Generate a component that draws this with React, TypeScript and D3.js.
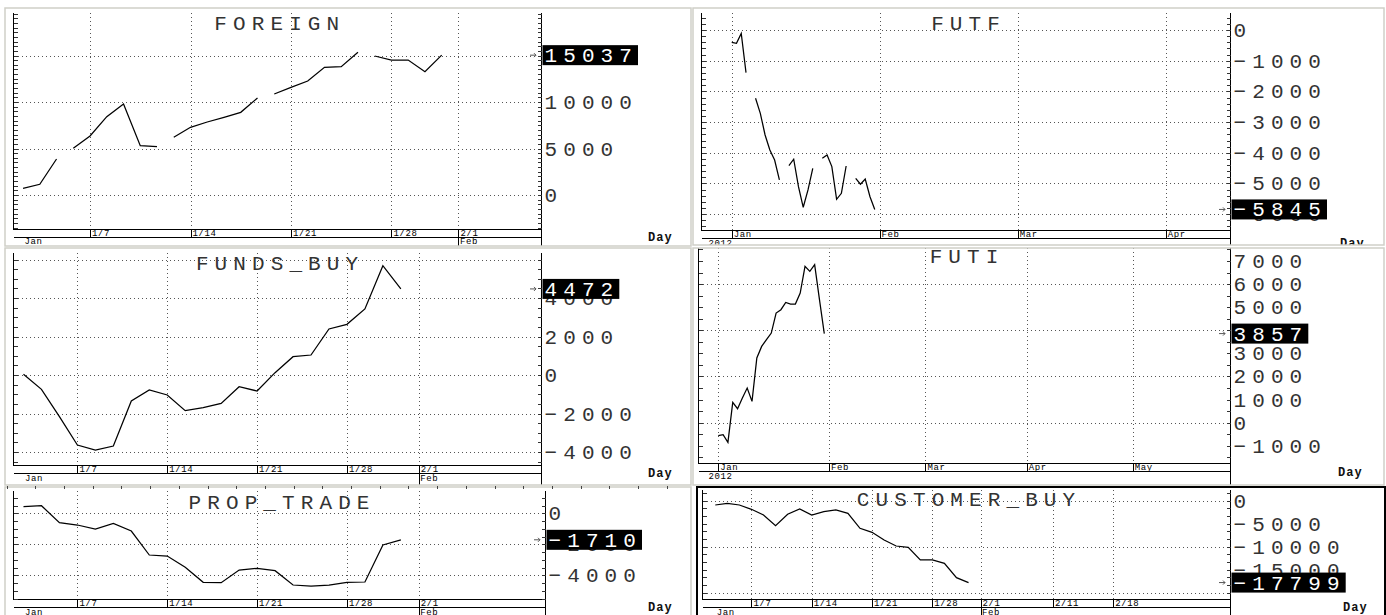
import * as d3 from "d3";

// ---------- data ----------

// FOREIGN: one point per trading day, the line breaks at each new week
const foreignValues = [720, 1150, 3871, 5018, 6344, 8423, 9785, 5305, 5197, 6201, 7276, 7849, 8351, 8889, 10430, 10860, 11577, 12258, 13728, 13800, 15340, 14946, 14516, 14516, 13262, 15037];
const foreignWeekStarts = [0, 3, 9, 15, 21];
const foreignTickIdx = [4, 10, 16, 22, 26];
const foreignMonthIdx = [0, 26];

const weekLabels = ["1/7", "1/14", "1/21", "1/28", "2/1"];
const monthLabels = ["Jan", "Feb", "Mar", "Apr", "May"];
const yearLabel = "2012";

// FUTF: calendar days from 2012-01-01, null = no data that day
const futfValues: (number | null)[] = [-400, -435, -110, -1390, null, -2225, -2715, -3420, -3910, -4235, -4885, null, -4420, -4210, -5105, -5775, -5210, -4505, null, -4180, -4070, -4450, -5515, -5320, -4430, null, -4830, -5025, -4855, -5430, -5845];

// FUNDS_BUY
const fundsValues = [36, -743, -2166, -3636, -3896, -3688, -1351, -779, -1039, -1853, -1697, -1472, -606, -831, 121, 952, 1039, 2390, 2632, 3429, 5678, 4472];
const dayTickIdx = [3, 8, 13, 18, 22];
const dayMonthIdx = [0, 22];

// FUTI
const futiValues = [-563, -519, -851, 880, 606, 1068, 1501, 924, 2800, 3303, 3593, 3881, 4747, 4892, 5208, 5137, 5137, 5613, 6767, 6550, 6840, 5325, 3857];
const futiMonthIdx = [0, 23, 43, 64, 86];

// PROP_TRADE
const propValues = [426, 490, -606, -755, -1013, -645, -1142, -2690, -2755, -3484, -4452, -4477, -3658, -3548, -3703, -4626, -4690, -4626, -4452, -4432, -2045, -1710];

// CUSTOMER_BUY
const customerValues = [-935, -565, -935, -1870, -3109, -5435, -2957, -1804, -3109, -2391, -2022, -2739, -6000, -6870, -8543, -9848, -10130, -12891, -12891, -13609, -16739, -17799];
const customerTickIdx = [3, 8, 13, 18, 22, 28, 33];
const customerTickLabels = ["1/7", "1/14", "1/21", "1/28", "2/1", "2/11", "2/18"];

// value axes
const foreignGrid = [0, 5000, 10000, 15000];
const foreignLabels = [0, 5000, 10000, 15000];
const futfGrid = [0, -1000, -2000, -3000, -4000, -5000, -6000];
const futfLabels = [0, -1000, -2000, -3000, -4000, -5000, -6000];
const fundsGrid = [-4000, -2000, 0, 2000, 4000, 6000];
const fundsLabels = [-4000, -2000, 0, 2000, 4000];
const futiGrid = [0, 2000, 4000, 6000];
const futiLabels = [-1000, 0, 1000, 2000, 3000, 4000, 5000, 6000, 7000];
const propGrid = [0, -2000, -4000];
const propLabels = [0, -2000, -4000];
const customerGrid = [0, -10000, -20000];
const customerLabels = [0, -5000, -10000, -15000];

// ---------- drawing ----------

const MONO = "'Liberation Mono', 'Courier New', monospace";
const ADV = 18.7;
const BIG = { fontFamily: MONO, fontSize: 21, letterSpacing: "6.1px" } as const;
const SMALL = { fontFamily: MONO, fontSize: 9, letterSpacing: "0.6px" } as const;
const DAY = { fontFamily: MONO, fontSize: 12, fontWeight: 700, letterSpacing: "1px" } as const;

const fmt = (v: number) => (v < 0 ? "\u2212" + Math.abs(v) : String(v));
const px = (v: number) => Math.round(v) + 0.5;

interface Tick { x: number; label: string; line?: boolean }

interface PanelProps {
  id: string;
  title: string;
  frame: { x0: number; y0: number; x1: number; y1: number };
  dark?: boolean;
  left: number;
  right: number;
  top: number;
  axisY: number;
  titleY: number;
  dayX: number;
  dayY: number;
  ys: d3.ScaleLinear<number, number>;
  paths: string[];
  gridY: number[];
  labelsY: number[];
  minorStep: number;
  upper: Tick[];
  lower: Tick[];
  last: number;
}

function Panel(p: PanelProps) {
  const { x0, y0, x1, y1 } = p.frame;
  const bandY = p.axisY + 8;
  const [d0, d1] = p.ys.domain();
  const minor: number[] = [];
  for (let k = Math.ceil(d0 / p.minorStep); k * p.minorStep <= d1; k++) minor.push(k * p.minorStep);
  const L = px(p.left);
  const R = px(p.right);
  const A = px(p.axisY);
  const B = px(bandY);
  const lastY = p.ys(p.last);
  const lastTxt = fmt(p.last);
  const boxW = lastTxt.length * ADV + 2;
  const titleW = p.title.length * ADV - 6.1;
  const clip = "clip-" + p.id;

  return (
    <g>
      <clipPath id={clip}>
        <rect x={x0} y={y0} width={x1 - x0} height={y1 - y0} />
      </clipPath>
      <g clipPath={`url(#${clip})`}>
        <rect x={x0} y={y0} width={x1 - x0} height={y1 - y0} fill="#fff" />

        {/* dotted grid */}
        <g stroke="#555" strokeDasharray="1 3" shapeRendering="crispEdges">
          {p.gridY.map((v) => (
            <line key={"gy" + v} x1={L} x2={R} y1={px(p.ys(v))} y2={px(p.ys(v))} />
          ))}
          {p.upper.map((t) => (
            <line key={"gx" + t.label} x1={px(t.x)} x2={px(t.x)} y1={p.top} y2={A} />
          ))}
        </g>

        <text x={(p.left + p.right) / 2 - titleW / 2} y={p.titleY} style={BIG} fill="#333">
          {p.title}
        </text>

        {/* axes */}
        <g stroke="#000" shapeRendering="crispEdges">
          <line x1={L} x2={L} y1={p.top} y2={A} />
          <line x1={R} x2={R} y1={p.top} y2={y1} />
          <line x1={L} x2={R} y1={A} y2={A} />
          <line x1={L} x2={R} y1={B} y2={B} />
          {minor.map((v) => (
            <line key={"ml" + v} x1={L} x2={L + 4} y1={px(p.ys(v))} y2={px(p.ys(v))} stroke="#333" />
          ))}
          {minor.map((v) => (
            <line key={"mr" + v} x1={R - 4} x2={R} y1={px(p.ys(v))} y2={px(p.ys(v))} stroke="#333" />
          ))}
          {p.upper.map((t) => (
            <line key={"ut" + t.label} x1={px(t.x)} x2={px(t.x)} y1={A} y2={B} />
          ))}
          {p.lower.filter((t) => t.line).map((t) => (
            <line key={"lt" + t.label} x1={px(t.x)} x2={px(t.x)} y1={B} y2={y1} />
          ))}
        </g>

        {p.upper.map((t) => (
          <text key={"ul" + t.label} x={t.x + 2} y={p.axisY + 7} style={SMALL} fill="#000">
            {t.label}
          </text>
        ))}
        {p.lower.map((t) => (
          <text key={"ll" + t.label} x={t.x + 1.5} y={bandY + 7.5} style={SMALL} fill="#000">
            {t.label}
          </text>
        ))}

        {/* series */}
        {p.paths.map((d, i) => (
          <path key={"s" + i} d={d} fill="none" stroke="#000" strokeWidth={1.25} />
        ))}

        {/* value labels */}
        {p.labelsY.map((v) => (
          <text key={"yl" + v} x={p.right + 3.5} y={p.ys(v) + 7} style={BIG} fill="#333">
            {fmt(v)}
          </text>
        ))}

        {/* last value marker */}
        <path
          d={`M${p.right - 11},${lastY} h6 M${p.right - 7},${lastY - 2} l2,2 l-2,2`}
          fill="none"
          stroke="#555"
          strokeWidth={1}
        />
        <rect x={p.right + 1.5} y={lastY - 10} width={boxW} height={20} fill="#000" />
        <text x={p.right + 3.5} y={lastY + 7} style={BIG} fill="#fff">
          {lastTxt}
        </text>

        <text x={p.dayX} y={p.dayY} style={DAY} fill="#111">
          Day
        </text>
      </g>
      <rect
        x={x0}
        y={y0}
        width={x1 - x0}
        height={y1 - y0}
        fill="none"
        stroke={p.dark ? "#000" : "#cfcfc8"}
        strokeWidth={p.dark ? 2 : 1.5}
      />
    </g>
  );
}

function indexLine(xs: (v: number) => number, ys: d3.ScaleLinear<number, number>, values: number[], starts: number[]) {
  const line = d3
    .line<[number, number]>()
    .x((d) => xs(d[0]))
    .y((d) => ys(d[1]));
  const pts: [number, number][] = values.map((v, i) => [i, v]);
  return starts.map((s, k) => line(pts.slice(s, k + 1 < starts.length ? starts[k + 1] : pts.length)) || "");
}

export default function App() {
  // FOREIGN
  const xF = d3.scaleLinear().domain([-0.63, 30.93]).range([12.5, 541]);
  const yF = d3.scaleLinear().domain([-3602, 19570]).range([228.5, 13]);

  // FUTF (calendar)
  const xT = d3.scaleTime().domain([new Date(2011, 11, 25, 13, 26), new Date(2012, 3, 14, 12)]).range([701, 1230]);
  const yT = d3.scaleLinear().domain([-6515, 554]).range([230, 13]);
  const futfLine = d3
    .line<[Date, number | null]>()
    .defined((d) => d[1] !== null)
    .x((d) => xT(d[0]))
    .y((d) => yT(d[1] as number));
  const futfPts: [Date, number | null][] = futfValues.map((v, i) => [new Date(2012, 0, 1 + i), v]);

  // FUNDS_BUY
  const xB = d3.scaleLinear().domain([-0.584, 28.8]).range([13, 541]);
  const yB = d3.scaleLinear().domain([-4691, 6338]).range([465.3, 253]);

  // FUTI
  const xI = d3.scaleLinear().domain([-4.21, 106.2]).range([698, 1230]);
  const yI = d3.scaleLinear().domain([-1745, 7563]).range([463, 248]);

  // PROP_TRADE
  const xP = d3.scaleLinear().domain([-0.584, 29.02]).range([13, 545]);
  const yP = d3.scaleLinear().domain([-5548, 1439]).range([599.3, 491]);

  // CUSTOMER_BUY
  const xC = d3.scaleLinear().domain([-1.1, 42.68]).range([702, 1230]);
  const yC = d3.scaleLinear().domain([-21435, 2326]).range([599.3, 490]);

  const weekTicks = (xs: (v: number) => number, idx: number[], labels: string[]): Tick[] =>
    idx.map((i, k) => ({ x: xs(i), label: labels[k] }));
  const monthLower = (xs: (v: number) => number, idx: number[]): Tick[] =>
    idx.map((i, k) => ({ x: xs(i), label: monthLabels[k], line: k > 0 }));

  return (
    <div style={{ position: "absolute", left: 0, top: 0, width: 1386, height: 615, overflow: "hidden" }}>
      <svg width={1386} height={615} style={{ display: "block" }}>
        <rect width={1386} height={615} fill="#fff" />

        <Panel
          id="foreign"
          title="FOREIGN"
          frame={{ x0: 5, y0: 8, x1: 691, y1: 246 }}
          left={12.5}
          right={541}
          top={13}
          axisY={228.5}
          titleY={29.5}
          dayX={648}
          dayY={240.5}
          ys={yF}
          paths={indexLine(xF, yF, foreignValues, foreignWeekStarts)}
          gridY={foreignGrid}
          labelsY={foreignLabels}
          minorStep={500}
          upper={weekTicks(xF, foreignTickIdx, weekLabels)}
          lower={monthLower(xF, foreignMonthIdx)}
          last={foreignValues[foreignValues.length - 1]}
        />

        <Panel
          id="futf"
          title="FUTF"
          frame={{ x0: 693, y0: 8, x1: 1384, y1: 245 }}
          left={701}
          right={1230}
          top={13}
          axisY={230}
          titleY={30}
          dayX={1340}
          dayY={247}
          ys={yT}
          paths={[futfLine(futfPts) || ""]}
          gridY={futfGrid}
          labelsY={futfLabels}
          minorStep={200}
          upper={[0, 1, 2, 3].map((m) => ({ x: xT(new Date(2012, m, 1)), label: monthLabels[m] }))}
          lower={[{ x: 707, label: yearLabel }]}
          last={futfValues[futfValues.length - 1] as number}
        />

        <Panel
          id="funds"
          title="FUNDS_BUY"
          frame={{ x0: 5, y0: 248, x1: 691, y1: 485 }}
          left={13}
          right={541}
          top={253}
          axisY={465.3}
          titleY={269.5}
          dayX={648}
          dayY={477}
          ys={yB}
          paths={indexLine(xB, yB, fundsValues, [0])}
          gridY={fundsGrid}
          labelsY={fundsLabels}
          minorStep={500}
          upper={weekTicks(xB, dayTickIdx, weekLabels)}
          lower={monthLower(xB, dayMonthIdx)}
          last={fundsValues[fundsValues.length - 1]}
        />

        <Panel
          id="futi"
          title="FUTI"
          frame={{ x0: 693, y0: 248, x1: 1384, y1: 485 }}
          left={698}
          right={1230}
          top={248}
          axisY={463}
          titleY={263}
          dayX={1338}
          dayY={476}
          ys={yI}
          paths={indexLine(xI, yI, futiValues, [0])}
          gridY={futiGrid}
          labelsY={futiLabels}
          minorStep={500}
          upper={futiMonthIdx.map((i, k) => ({ x: xI(i), label: monthLabels[k] }))}
          lower={[{ x: 707, label: yearLabel }]}
          last={futiValues[futiValues.length - 1]}
        />

        <Panel
          id="prop"
          title="PROP_TRADE"
          frame={{ x0: 5, y0: 487, x1: 691, y1: 616 }}
          left={13}
          right={545}
          top={491}
          axisY={599.3}
          titleY={508.5}
          dayX={648}
          dayY={611}
          ys={yP}
          paths={indexLine(xP, yP, propValues, [0])}
          gridY={propGrid}
          labelsY={propLabels}
          minorStep={500}
          upper={weekTicks(xP, dayTickIdx, weekLabels)}
          lower={monthLower(xP, dayMonthIdx)}
          last={propValues[propValues.length - 1]}
        />

        <Panel
          id="customer"
          title="CUSTOMER_BUY"
          frame={{ x0: 697, y0: 487, x1: 1385, y1: 616 }}
          dark
          left={702}
          right={1230}
          top={490}
          axisY={599.3}
          titleY={506}
          dayX={1343}
          dayY={611}
          ys={yC}
          paths={indexLine(xC, yC, customerValues, [0])}
          gridY={customerGrid}
          labelsY={customerLabels}
          minorStep={5000 / 3}
          upper={weekTicks(xC, customerTickIdx, customerTickLabels)}
          lower={monthLower(xC, dayMonthIdx)}
          last={customerValues[customerValues.length - 1]}
        />

        {/* ruler strip on top of the lower-left pane */}
        <g stroke="#444" shapeRendering="crispEdges">
          {d3.range(6.6, 691, 28.7).map((x) => (
            <line key={"r" + x} x1={Math.round(x) + 0.5} x2={Math.round(x) + 0.5} y1={486} y2={489} />
          ))}
        </g>
      </svg>
    </div>
  );
}
